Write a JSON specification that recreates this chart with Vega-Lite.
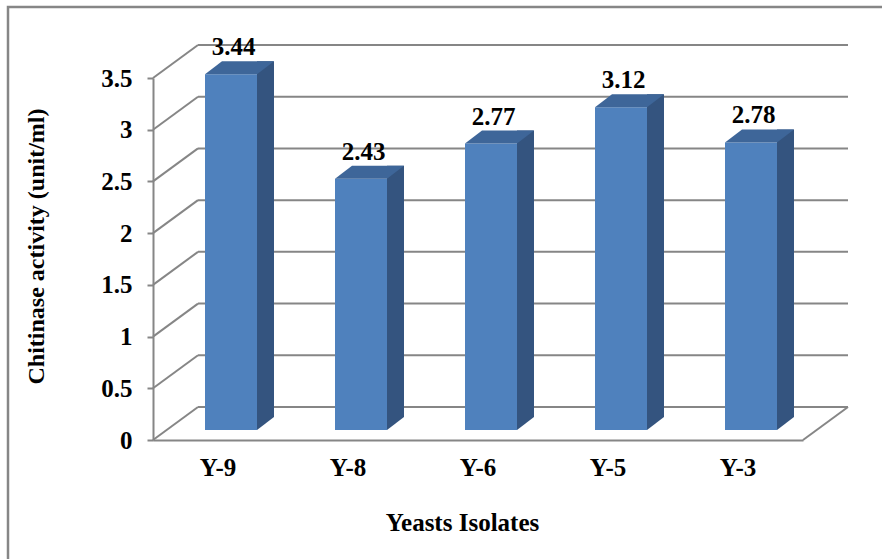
{
  "$schema": "https://vega.github.io/schema/vega-lite/v6.json",
  "width": 880,
  "height": 560,
  "autosize": {"type": "none"},
  "padding": {"left": 8, "top": 7, "right": -6, "bottom": -8},
  "background": "white",
  "config": {
    "view": {"stroke": "#868686", "strokeWidth": 2.5},
    "axis": {"grid": false},
    "font": "Liberation Serif"
  },
  "datasets": {
    "levels": [
      {"level": 0}, {"level": 0.5}, {"level": 1}, {"level": 1.5},
      {"level": 2}, {"level": 2.5}, {"level": 3}, {"level": 3.5}
    ],
    "isolates": [
      {"isolate": "Y-9", "activity": 3.44},
      {"isolate": "Y-8", "activity": 2.43},
      {"isolate": "Y-6", "activity": 2.77},
      {"isolate": "Y-5", "activity": 3.12},
      {"isolate": "Y-3", "activity": 2.78}
    ]
  },
  "resolve": {"scale": {"x": "independent"}},
  "layer": [
    {
      "data": {"name": "levels"},
      "layer": [
        {
          "mark": {"type": "rule", "stroke": "#868686", "strokeWidth": 2, "x2Offset": 45, "y2Offset": -33},
          "encoding": {
            "x": {"datum": 0, "type": "quantitative", "scale": {"domain": [0, 1], "range": [145, 795]}, "axis": null},
            "x2": {"datum": 0},
            "y": {
              "field": "level", "type": "quantitative",
              "title": "Chitinase activity (unit/ml)",
              "scale": {"domain": [0, 3.5], "range": [433, 71], "nice": false, "zero": false},
              "axis": {
                "values": [0, 0.5, 1, 1.5, 2, 2.5, 3, 3.5],
                "format": "~g",
                "offset": -145,
                "domainColor": "#868686",
                "domainWidth": 2,
                "tickColor": "#868686",
                "tickWidth": 2,
                "tickSize": 6,
                "labelFont": "Liberation Serif",
                "labelFontSize": 25,
                "labelFontWeight": "bold",
                "labelColor": "#000000",
                "labelPadding": 15,
                "titleFont": "Liberation Serif",
                "titleFontSize": 24,
                "titleFontWeight": "bold",
                "titleColor": "#000000",
                "titleAngle": -90,
                "titleAlign": "center",
                "titleBaseline": "middle",
                "titleX": -117,
                "titleY": 239
              }
            },
            "y2": {"field": "level"}
          }
        },
        {
          "mark": {"type": "rule", "stroke": "#868686", "strokeWidth": 2, "xOffset": 45, "x2Offset": 45, "yOffset": -33},
          "encoding": {
            "x": {"datum": 0, "type": "quantitative", "scale": {"domain": [0, 1], "range": [145, 795]}, "axis": null},
            "x2": {"datum": 1},
            "y": {
              "field": "level", "type": "quantitative",
              "title": "Chitinase activity (unit/ml)",
              "scale": {"domain": [0, 3.5], "range": [433, 71], "nice": false, "zero": false}
            }
          }
        },
        {
          "transform": [{"filter": "datum.level === 0"}],
          "mark": {"type": "rule", "stroke": "#868686", "strokeWidth": 2, "x2Offset": 45, "y2Offset": -33},
          "encoding": {
            "x": {"datum": 1, "type": "quantitative", "scale": {"domain": [0, 1], "range": [145, 795]}, "axis": null},
            "x2": {"datum": 1},
            "y": {
              "field": "level", "type": "quantitative",
              "title": "Chitinase activity (unit/ml)",
              "scale": {"domain": [0, 3.5], "range": [433, 71], "nice": false, "zero": false}
            },
            "y2": {"field": "level"}
          }
        }
      ]
    },
    {
      "data": {"name": "isolates"},
      "layer": [
        {
          "mark": {"type": "bar", "width": 17, "xOffset": 47.5, "yOffset": -23, "y2Offset": -23, "color": "#34547F"},
          "encoding": {
            "x": {
              "field": "isolate", "type": "nominal", "sort": null,
              "title": "Yeasts Isolates",
              "scale": {"domain": ["Y-9", "Y-8", "Y-6", "Y-5", "Y-3"], "range": [145, 795], "paddingInner": 0.6, "paddingOuter": 0.3},
              "axis": {
                "offset": -127,
                "domainColor": "#868686",
                "domainWidth": 2,
                "ticks": false,
                "tickSize": 0,
                "labelAngle": 0,
                "labelFont": "Liberation Serif",
                "labelFontSize": 25,
                "labelFontWeight": "bold",
                "labelColor": "#000000",
                "labelPadding": 15,
                "titleFont": "Liberation Serif",
                "titleFontSize": 25,
                "titleFontWeight": "bold",
                "titleColor": "#000000",
                "titleAlign": "center",
                "titleBaseline": "middle",
                "titleX": 454,
                "titleY": 82
              }
            },
            "y": {
              "field": "activity", "type": "quantitative",
              "title": "Chitinase activity (unit/ml)",
              "scale": {"domain": [0, 3.5], "range": [433, 71], "nice": false, "zero": false}
            }
          }
        },
        {
          "mark": {"type": "point", "shape": "M0,0L0,-13L17,-13Z", "size": 4, "filled": true, "opacity": 1, "color": "#34547F", "xOffset": 39, "yOffset": -10},
          "encoding": {
            "x": {
              "field": "isolate", "type": "nominal", "sort": null, "title": "Yeasts Isolates",
              "scale": {"domain": ["Y-9", "Y-8", "Y-6", "Y-5", "Y-3"], "range": [145, 795], "paddingInner": 0.6, "paddingOuter": 0.3}
            },
            "y": {
              "datum": 0, "type": "quantitative",
              "title": "Chitinase activity (unit/ml)",
              "scale": {"domain": [0, 3.5], "range": [433, 71], "nice": false, "zero": false}
            }
          }
        },
        {
          "mark": {"type": "bar", "width": 52, "xOffset": 13, "yOffset": -10, "y2Offset": -10, "color": "#4F81BD"},
          "encoding": {
            "x": {
              "field": "isolate", "type": "nominal", "sort": null, "title": "Yeasts Isolates",
              "scale": {"domain": ["Y-9", "Y-8", "Y-6", "Y-5", "Y-3"], "range": [145, 795], "paddingInner": 0.6, "paddingOuter": 0.3}
            },
            "y": {
              "field": "activity", "type": "quantitative",
              "title": "Chitinase activity (unit/ml)",
              "scale": {"domain": [0, 3.5], "range": [433, 71], "nice": false, "zero": false}
            }
          }
        },
        {
          "mark": {"type": "point", "shape": "M-26,0L26,0L43,-13L-9,-13Z", "size": 4, "filled": true, "opacity": 1, "color": "#3E6699", "xOffset": 13, "yOffset": -10},
          "encoding": {
            "x": {
              "field": "isolate", "type": "nominal", "sort": null, "title": "Yeasts Isolates",
              "scale": {"domain": ["Y-9", "Y-8", "Y-6", "Y-5", "Y-3"], "range": [145, 795], "paddingInner": 0.6, "paddingOuter": 0.3}
            },
            "y": {
              "field": "activity", "type": "quantitative",
              "title": "Chitinase activity (unit/ml)",
              "scale": {"domain": [0, 3.5], "range": [433, 71], "nice": false, "zero": false}
            }
          }
        },
        {
          "mark": {"type": "text", "font": "Liberation Serif", "fontSize": 25, "fontWeight": "bold", "color": "#000000", "baseline": "middle", "align": "center", "xOffset": 15.5, "yOffset": -37},
          "encoding": {
            "x": {
              "field": "isolate", "type": "nominal", "sort": null, "title": "Yeasts Isolates",
              "scale": {"domain": ["Y-9", "Y-8", "Y-6", "Y-5", "Y-3"], "range": [145, 795], "paddingInner": 0.6, "paddingOuter": 0.3}
            },
            "y": {
              "field": "activity", "type": "quantitative",
              "title": "Chitinase activity (unit/ml)",
              "scale": {"domain": [0, 3.5], "range": [433, 71], "nice": false, "zero": false}
            },
            "text": {"field": "activity", "type": "quantitative", "format": ".2f"}
          }
        }
      ]
    }
  ]
}
